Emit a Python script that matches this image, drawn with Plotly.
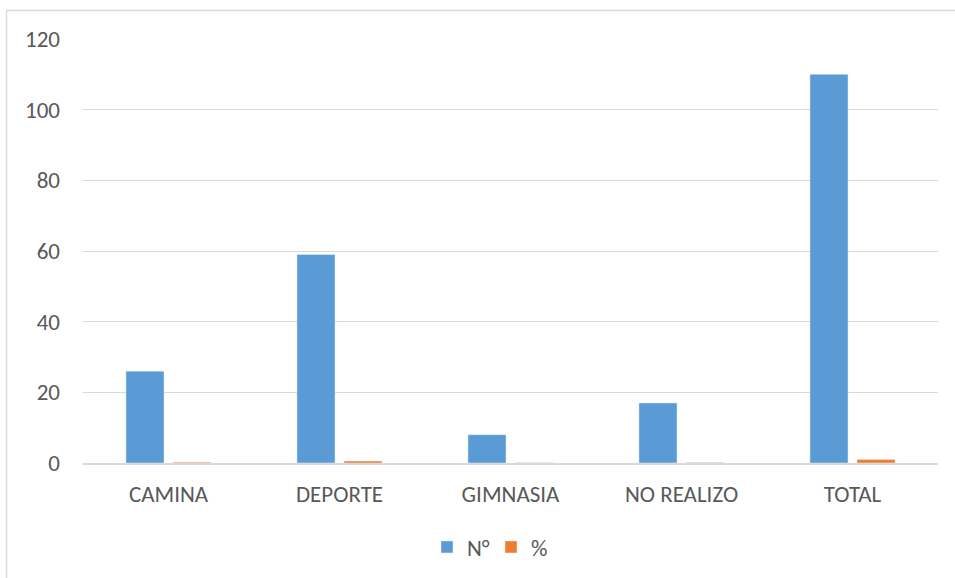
import plotly.graph_objects as go

categories = ["CAMINA", "DEPORTE", "GIMNASIA", "NO REALIZO", "TOTAL"]
n_values = [26, 59, 8, 17, 110]
pct_values = [0.24, 0.54, 0.07, 0.15, 1.0]

y_ticks = [0, 20, 40, 60, 80, 100, 120]

font_family = "Carlito, Calibri, Lato, 'Open Sans', sans-serif"
text_color = "#595959"

fig = go.Figure()
fig.add_trace(go.Bar(x=categories, y=n_values, name="N°", marker_color="#5B9BD5"))
fig.add_trace(go.Bar(x=categories, y=pct_values, name="%", marker_color="#ED7D31"))

W, H = 955, 578
left, right, top, bottom = 83, 17, 39, 115
pw = W - left - right
ph = H - top - bottom


def px_x(x):
    return (x - left) / pw


def px_y(y):
    return (H - bottom - y) / ph


# chart frame (light gray outline)
fig.add_shape(
    type="rect", xref="paper", yref="paper",
    x0=px_x(6.5), x1=px_x(965), y0=px_y(590), y1=px_y(10.5),
    line=dict(color="#D9D9D9", width=1.5), fillcolor="rgba(0,0,0,0)", layer="below",
)

fig.update_layout(
    width=W, height=H,
    margin=dict(l=left, r=right, t=top, b=bottom, autoexpand=False),
    paper_bgcolor="white", plot_bgcolor="white",
    barmode="group", bargap=0.45, bargroupgap=0.19,
    font=dict(family=font_family, size=23, color=text_color),
    showlegend=True,
    legend=dict(
        orientation="h", x=px_x(491), xanchor="center", y=px_y(547), yanchor="middle",
        font=dict(size=23, color=text_color), itemwidth=30, entrywidth=19,
    ),
    xaxis=dict(
        showgrid=False, showline=True, linecolor="#D9D9D9", linewidth=1.5,
        ticks="", tickfont=dict(size=23, color=text_color), ticklabelstandoff=10,
        automargin=False,
    ),
    yaxis=dict(
        range=[0, 120], tickvals=y_ticks, showgrid=True, gridcolor="#D9D9D9",
        gridwidth=1, zeroline=False, showline=False, ticks="",
        tickfont=dict(size=23, color=text_color), ticklabelstandoff=22,
        automargin=False,
    ),
)

fig.write_html("out.html")
